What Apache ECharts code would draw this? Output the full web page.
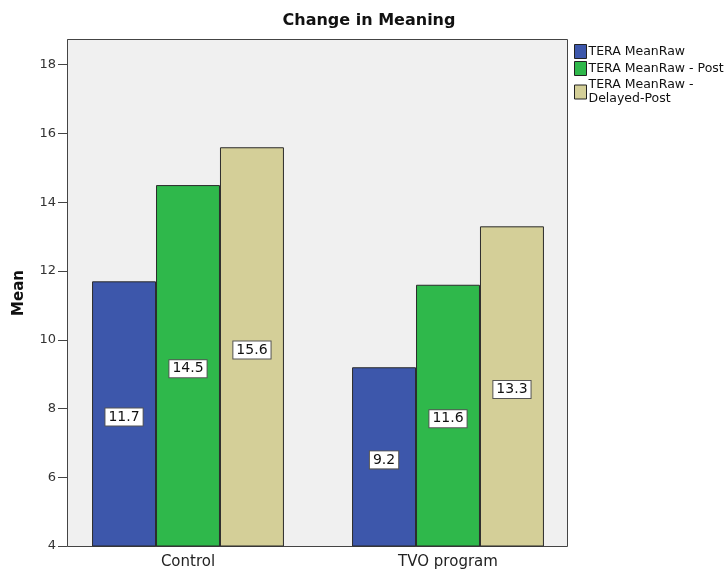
<!DOCTYPE html>
<html>
<head>
<meta charset="utf-8">
<script src="https://cdn.jsdelivr.net/npm/echarts@6/dist/echarts.min.js"></script>
<style>
  html, body { margin: 0; padding: 0; background: #fff; }
  #chart { width: 728px; height: 578px; }
</style>
</head>
<body>
<div id="chart"></div>
<script>
// Groups on the x axis
const categories = ['Control', 'TVO program'];

// Mean TERA raw scores per group
const meanRaw = [11.7, 9.2];
const meanRawPost = [14.5, 11.6];
const meanRawDelayed = [15.6, 13.3];

const seriesNames = ['TERA MeanRaw', 'TERA MeanRaw - Post', 'TERA MeanRaw - Delayed-Post'];
const seriesColors = ['#3d57ab', '#2fb84b', '#d4cf98'];

// Y axis ticks
const yTicks = [4, 6, 8, 10, 12, 14, 16, 18];

const chart = echarts.init(document.getElementById('chart'));

function barSeries(name, data, color) {
  return {
    name: name,
    type: 'bar',
    data: data,
    barGap: '0%',
    barCategoryGap: '26.2%',
    itemStyle: { color: color, borderColor: '#2b2b2b', borderWidth: 1 },
    label: {
      show: true,
      position: 'inside',
      offset: [0, 3],
      formatter: p => p.value.toFixed(1),
      color: '#111',
      fontFamily: 'DejaVu Sans',
      fontSize: 14,
      backgroundColor: '#fff',
      borderColor: '#555',
      borderWidth: 1,
      padding: [2, 3, 1, 3]
    }
  };
}

chart.setOption({
  animation: false,
  title: {
    text: 'Change in Meaning',
    left: 364,
    top: 8,
    textAlign: 'center',
    textStyle: { fontFamily: 'DejaVu Sans', fontWeight: 'bold', fontSize: 16, color: '#111' }
  },
  legend: {
    orient: 'vertical',
    left: 569,
    top: 39,
    icon: 'rect',
    itemWidth: 12,
    itemHeight: 14,
    itemGap: 2,
    data: seriesNames,
    formatter: n => n === 'TERA MeanRaw - Delayed-Post' ? 'TERA MeanRaw -\nDelayed-Post' : n,
    textStyle: { fontFamily: 'DejaVu Sans', fontSize: 12.5, color: '#111', lineHeight: 14, padding: [0, 0, 0, -3] },
    itemStyle: { borderColor: '#222', borderWidth: 1 }
  },
  // plot frame and background
  graphic: [{
    type: 'rect',
    z: -10,
    silent: true,
    shape: { x: 67.5, y: 39.5, width: 500, height: 507 },
    style: { fill: '#f0f0f0', stroke: '#444', lineWidth: 1 }
  }],
  grid: {
    left: 58,
    top: 40,
    width: 520,
    height: 506,
    show: false
  },
  xAxis: {
    type: 'category',
    data: categories,
    axisLine: { show: false },
    axisTick: { alignWithLabel: true, length: 6, lineStyle: { color: '#444' } },
    axisLabel: { fontFamily: 'DejaVu Sans', fontSize: 15, color: '#222', margin: 9 }
  },
  yAxis: {
    type: 'value',
    min: 4,
    max: 18.72,
    interval: 2,
    offset: -9,
    name: 'Mean',
    nameLocation: 'middle',
    nameGap: 40,
    nameTextStyle: { fontFamily: 'DejaVu Sans', fontWeight: 'bold', fontSize: 15, color: '#111' },
    splitLine: { show: false },
    axisLine: { show: true, lineStyle: { color: '#444' } },
    axisTick: { show: true, length: 9, customValues: yTicks, lineStyle: { color: '#444' } },
    axisLabel: {
      fontFamily: 'DejaVu Sans',
      fontSize: 13,
      color: '#333',
      margin: 11,
      customValues: yTicks
    }
  },
  series: [
    barSeries(seriesNames[0], meanRaw, seriesColors[0]),
    barSeries(seriesNames[1], meanRawPost, seriesColors[1]),
    barSeries(seriesNames[2], meanRawDelayed, seriesColors[2])
  ]
});
</script>
</body>
</html>
